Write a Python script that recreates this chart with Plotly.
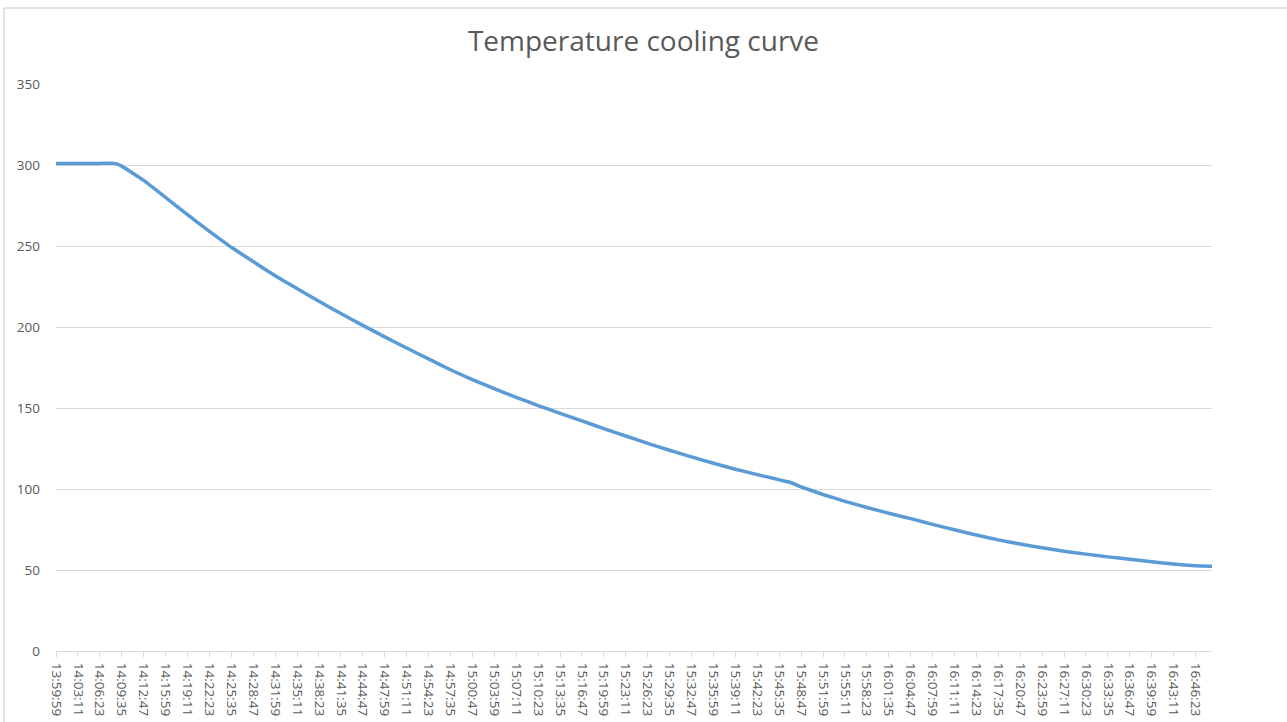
import plotly.graph_objects as go

# Logged temperature readings (clock time, degrees)
sample_times = [
    "13:59:59", "14:03:11", "14:06:23", "14:08:35", "14:09:35", "14:12:47",
    "14:15:59", "14:19:11", "14:22:23", "14:25:35", "14:28:47", "14:31:59",
    "14:35:11", "14:38:23", "14:41:35", "14:44:47", "14:47:59", "14:51:11",
    "14:54:23", "14:57:35", "15:00:47", "15:03:59", "15:07:11", "15:10:23",
    "15:13:35", "15:16:47", "15:19:59", "15:23:11", "15:26:23", "15:29:35",
    "15:32:47", "15:35:59", "15:39:11", "15:42:23", "15:45:35", "15:47:14",
    "15:48:47", "15:51:59", "15:55:11", "15:58:23", "16:01:35", "16:04:47",
    "16:07:59", "16:11:11", "16:14:23", "16:17:35", "16:20:47", "16:23:59",
    "16:27:11", "16:30:23", "16:33:35", "16:36:47", "16:39:59", "16:43:11",
    "16:46:23", "16:48:47",
]
temperatures = [
    301.0, 301.0, 301.0, 301.0, 299.3, 290.5,
    280.0, 269.3, 259.0, 249.2, 240.4, 231.6,
    223.7, 215.9, 208.3, 201.0, 193.9, 187.0,
    180.3, 173.6, 167.5, 161.9, 156.6, 151.5,
    146.7, 142.0, 137.3, 132.7, 128.2, 123.9,
    119.8, 115.9, 112.2, 108.9, 105.7, 104.0,
    101.3, 96.6, 92.4, 88.6, 85.0, 81.7,
    78.2, 74.8, 71.6, 68.6, 66.0, 63.7,
    61.6, 59.8, 58.1, 56.6, 55.1, 53.7,
    52.6, 52.3,
]

# Axis labels along the time axis
tick_labels = [
    "13:59:59", "14:03:11", "14:06:23", "14:09:35", "14:12:47", "14:15:59",
    "14:19:11", "14:22:23", "14:25:35", "14:28:47", "14:31:59", "14:35:11",
    "14:38:23", "14:41:35", "14:44:47", "14:47:59", "14:51:11", "14:54:23",
    "14:57:35", "15:00:47", "15:03:59", "15:07:11", "15:10:23", "15:13:35",
    "15:16:47", "15:19:59", "15:23:11", "15:26:23", "15:29:35", "15:32:47",
    "15:35:59", "15:39:11", "15:42:23", "15:45:35", "15:48:47", "15:51:59",
    "15:55:11", "15:58:23", "16:01:35", "16:04:47", "16:07:59", "16:11:11",
    "16:14:23", "16:17:35", "16:20:47", "16:23:59", "16:27:11", "16:30:23",
    "16:33:35", "16:36:47", "16:39:59", "16:43:11", "16:46:23",
]
y_ticks = [0, 50, 100, 150, 200, 250, 300, 350]

DAY = "2020-01-01 "
x_vals = [DAY + t for t in sample_times]
tick_vals = [DAY + t for t in tick_labels]

GRID = "#d9d9d9"
TEXT = "#595959"
FONT = "Open Sans"

W, H = 1287, 722
ML, MR, MT, MB = 56, 75, 84, 71
PW, PH = W - ML - MR, H - MT - MB

fig = go.Figure()
fig.add_trace(go.Scatter(
    x=x_vals, y=temperatures, mode="lines",
    line=dict(color="#5b9bd5", width=3.5, shape="spline", smoothing=0.3),
    showlegend=False, hoverinfo="x+y",
))

fig.update_layout(
    width=W, height=H,
    paper_bgcolor="white", plot_bgcolor="white",
    margin=dict(l=ML, r=MR, t=MT, b=MB, autoexpand=False),
    title=dict(text="Temperature cooling curve", x=0.5, xanchor="center",
               y=0.943, yanchor="middle",
               font=dict(family=FONT, size=28, color=TEXT)),
    font=dict(family=FONT, size=13, color=TEXT),
    xaxis=dict(
        type="date", automargin=False,
        range=[x_vals[0], x_vals[-1]],
        tickmode="array", tickvals=tick_vals, ticktext=tick_labels,
        tickangle=90, tickfont=dict(family=FONT, size=13.5, color=TEXT),
        showgrid=False, showline=True, linecolor=GRID, linewidth=1,
        ticks="outside", ticklen=5, tickcolor=GRID, tickwidth=1,
        ticklabelstandoff=3, zeroline=False,
    ),
    yaxis=dict(
        range=[0, 350], tickmode="array", tickvals=y_ticks, automargin=False,
        tickfont=dict(family=FONT, size=13.5, color=TEXT),
        showgrid=True, gridcolor=GRID, gridwidth=1,
        showline=False, zeroline=False, ticks="", ticklabelstandoff=15,
    ),
)

# chart-area border (left and top edges)
left_x = -(ML - 4) / PW
top_y = (PH + MT - 8) / PH
bottom_y = -MB / PH
fig.add_shape(type="line", xref="paper", yref="paper",
              x0=left_x, x1=left_x, y0=bottom_y, y1=top_y,
              line=dict(color=GRID, width=1.5))
fig.add_shape(type="line", xref="paper", yref="paper",
              x0=left_x, x1=(PW + MR) / PW, y0=top_y, y1=top_y,
              line=dict(color=GRID, width=1.5))

fig.write_html("out.html")
